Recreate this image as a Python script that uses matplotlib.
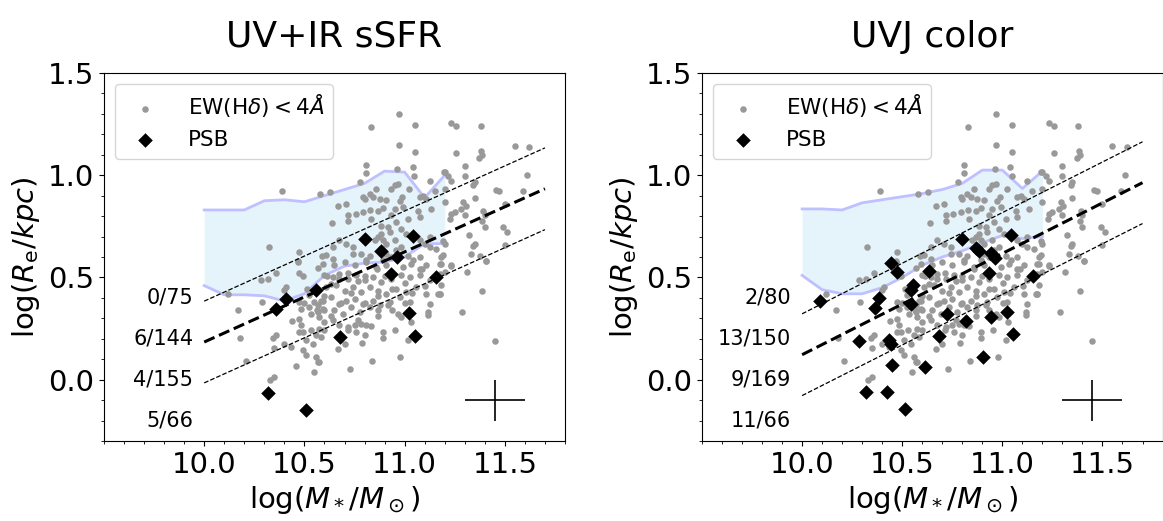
import numpy as np
import matplotlib.pyplot as plt
from matplotlib.ticker import MultipleLocator

# galaxies with EW(Hdelta) < 4A (same sample in both panels)
gray_mass = [
    # upper half
    10.388, 10.578, 10.325, 10.475, 10.467, 10.588,
    10.97, 10.83, 11.05, 10.97, 11.05, 10.808, 10.808, 10.962, 11.04, 11.047, 11.125, 11.195,
    10.778, 10.628, 10.858, 10.825, 10.792, 10.80, 10.842, 10.875, 10.908, 10.933, 10.95,
    10.967, 10.988, 10.975, 11.022, 11.075, 11.092, 11.108, 11.15, 10.667, 10.708, 10.637,
    10.717, 10.717, 10.755, 10.792, 10.828, 10.833, 10.867, 10.892, 10.933, 10.95, 10.992,
    10.958, 11.017, 11.067, 11.075, 11.133, 11.008, 10.983, 10.883, 10.917, 10.925, 10.883,
    10.867, 10.85, 10.892, 10.908, 10.95, 10.983, 10.958, 11.075, 11.1, 11.125, 10.675,
    10.708, 10.742, 10.742, 10.783, 10.825, 10.808, 10.642, 10.608, 10.642, 10.908, 10.933,
    10.892, 11.017, 11.042, 11.075, 11.125, 11.158, 11.183,
    11.233, 11.258, 11.38, 11.258, 11.383, 11.388, 11.372, 11.55, 11.622, 11.30, 11.20,
    11.217, 11.233, 11.30, 11.35, 11.342, 11.612, 11.20, 11.458, 11.472, 11.592, 11.35,
    11.20, 11.292, 11.283, 11.305, 11.25, 11.233, 11.228, 11.30, 11.392, 11.40, 11.388,
    11.50, 11.40, 11.492, 11.512, 11.322, 11.35, 11.342, 11.50, 11.192, 11.20, 11.333,
    11.378, 11.408, 11.192, 11.233,
    # lower half, right
    11.183, 11.233, 11.408, 11.20, 11.312, 11.183, 11.175, 11.388, 11.288, 11.45,
    # lower half, centre
    10.592, 10.65, 10.70, 10.75, 10.808, 10.858, 10.908, 10.992, 11.033, 11.075, 11.108, 11.175,
    10.60, 10.642, 10.675, 10.717, 10.758, 10.80, 10.842, 10.883, 10.933, 10.983, 11.025,
    11.075, 11.125, 11.175,
    10.608, 10.658, 10.70, 10.742, 10.783, 10.825, 10.867, 10.908, 10.958, 11.008, 11.058,
    11.108, 11.167,
    10.592, 10.633, 10.675, 10.708, 10.75, 10.792, 10.842, 10.875, 10.925, 10.975, 11.025,
    10.60, 10.65, 10.692, 10.733, 10.775, 10.825, 10.867, 10.917, 10.967, 10.983,
    10.60, 10.642, 10.675, 10.717, 10.75, 10.783, 10.808,
    10.758, 10.80, 10.892, 10.892, 11.017, 10.60, 10.667, 10.70, 10.788, 10.575, 10.838,
    10.978, 10.728, 11.125, 11.175, 11.117, 11.117, 11.03,
    10.615, 10.632, 10.674, 10.716, 10.733, 10.767, 10.80, 10.86, 10.90, 10.935, 11.003,
    11.036, 11.087, 11.104, 10.868, 10.80, 10.683, 10.60, 10.565, 10.632, 10.767, 10.868,
    10.935, 11.003, 10.716, 10.834, 10.952, 10.531, 10.498, 10.514,
    # lower half, left
    10.467, 10.567, 10.358, 10.317, 10.283, 10.475, 10.492, 10.117, 10.408, 10.40, 10.287,
    10.167, 10.475, 10.483, 10.525, 10.55, 10.567, 10.583, 10.525, 10.567, 10.592, 10.533,
    10.475, 10.575, 10.438, 10.483, 10.492, 10.475, 10.358, 10.342, 10.178, 10.558, 10.575,
    10.583, 10.40, 10.433, 10.35, 10.508, 10.542, 10.492, 10.508, 10.558, 10.567, 10.208,
    10.458, 10.55, 10.35, 10.328,
]
gray_size = [
    0.925, 0.909, 0.651, 0.624, 0.575, 0.603,
    1.297, 1.238, 1.246, 1.15, 1.112, 1.05, 1.011, 1.031, 1.042, 0.998, 0.974, 1.015,
    0.966, 0.92, 0.933, 0.909, 0.893, 0.884, 0.893, 0.884, 0.88, 0.933, 0.95,
    0.958, 0.893, 0.876, 0.933, 0.893, 0.90, 0.884, 0.925, 0.847, 0.857, 0.765,
    0.803, 0.778, 0.811, 0.819, 0.83, 0.787, 0.827, 0.84, 0.803, 0.835, 0.844,
    0.77, 0.787, 0.827, 0.795, 0.836, 0.713, 0.738, 0.754, 0.746, 0.72, 0.713,
    0.697, 0.681, 0.681, 0.664, 0.681, 0.648, 0.632, 0.681, 0.664, 0.697, 0.681,
    0.664, 0.648, 0.615, 0.615, 0.607, 0.583, 0.648, 0.612, 0.591, 0.615, 0.599,
    0.583, 0.607, 0.583, 0.599, 0.648, 0.64, 0.599,
    1.254, 1.243, 1.241, 1.109, 1.117, 1.10, 1.085, 1.145, 1.14, 1.047, 1.015,
    0.998, 0.971, 0.994, 0.966, 0.95, 1.003, 0.933, 0.928, 0.922, 0.925, 0.888,
    0.871, 0.868, 0.835, 0.847, 0.819, 0.811, 0.787, 0.803, 0.827, 0.803, 0.778,
    0.86, 0.746, 0.749, 0.721, 0.708, 0.664, 0.656, 0.661, 0.677, 0.664, 0.615,
    0.607, 0.58, 0.612, 0.563,
    0.567, 0.555, 0.578, 0.526, 0.526, 0.461, 0.417, 0.436, 0.33, 0.189,
    0.567, 0.559, 0.575, 0.559, 0.575, 0.55, 0.559, 0.55, 0.567, 0.542, 0.559, 0.567,
    0.51, 0.502, 0.518, 0.493, 0.51, 0.485, 0.502, 0.477, 0.493, 0.51, 0.502,
    0.51, 0.485, 0.518,
    0.453, 0.461, 0.436, 0.453, 0.428, 0.453, 0.436, 0.42, 0.445, 0.428, 0.453,
    0.42, 0.42,
    0.387, 0.404, 0.371, 0.387, 0.396, 0.371, 0.387, 0.363, 0.379, 0.404, 0.379,
    0.339, 0.339, 0.322, 0.355, 0.33, 0.355, 0.339, 0.363, 0.322, 0.306,
    0.282, 0.29, 0.265, 0.257, 0.265, 0.273, 0.265,
    0.233, 0.216, 0.233, 0.205, 0.192, 0.241, 0.151, 0.176, 0.179, 0.086, 0.091,
    0.111, 0.052, 0.371, 0.42, 0.33, 0.314, 0.28,
    0.507, 0.466, 0.491, 0.524, 0.425, 0.482, 0.507, 0.54, 0.507, 0.441, 0.474,
    0.425, 0.54, 0.458, 0.408, 0.375, 0.375, 0.408, 0.343, 0.31, 0.293, 0.31,
    0.343, 0.375, 0.244, 0.26, 0.244, 0.244, 0.375, 0.441,
    0.578, 0.547, 0.521, 0.493, 0.489, 0.521, 0.505, 0.42, 0.453, 0.44, 0.379,
    0.339, 0.379, 0.347, 0.412, 0.379, 0.363, 0.387, 0.355, 0.33, 0.347, 0.322,
    0.298, 0.306, 0.286, 0.265, 0.233, 0.233, 0.216, 0.205, 0.205, 0.216, 0.249,
    0.208, 0.176, 0.159, 0.156, 0.192, 0.176, 0.143, 0.119, 0.111, 0.086, 0.089,
    0.065, 0.037, 0.013, -0.004,
]

# PSB galaxies
psb_mass_sfr = [10.80, 10.88, 10.96, 11.04, 10.93, 11.155, 10.56, 10.41, 10.36, 10.68,
                11.02, 11.05, 10.32, 10.51]
psb_size_sfr = [0.69, 0.63, 0.60, 0.705, 0.515, 0.50, 0.44, 0.395, 0.345, 0.21,
                0.325, 0.215, -0.065, -0.15]
psb_mass_uvj = [10.80, 11.045, 10.867, 10.883, 10.945, 10.962, 10.445, 10.473, 10.633,
                10.933, 11.153, 10.553, 10.545, 10.545, 10.383, 10.362, 10.09, 10.723,
                10.817, 10.945, 11.023, 10.683, 11.053, 10.282, 10.433, 10.445, 10.903,
                10.45, 10.612, 10.32, 10.423, 10.512]
psb_size_uvj = [0.69, 0.709, 0.643, 0.629, 0.619, 0.595, 0.572, 0.526, 0.529,
                0.521, 0.505, 0.461, 0.437, 0.371, 0.401, 0.352, 0.384, 0.322,
                0.286, 0.306, 0.33, 0.213, 0.221, 0.189, 0.195, 0.176, 0.111,
                0.07, 0.062, -0.06, -0.06, -0.142]

# reference star-forming band
band_mass = [10.0, 10.1, 10.2, 10.3, 10.4, 10.5, 10.6, 10.7, 10.8, 10.9, 11.0, 11.1, 11.2]
band_lo_sfr = [0.46, 0.415, 0.415, 0.41, 0.385, 0.42, 0.51, 0.555, 0.57, 0.575, 0.60, 0.665, 0.665]
band_hi_sfr = [0.83, 0.83, 0.83, 0.875, 0.88, 0.87, 0.90, 0.93, 0.96, 1.02, 1.015, 0.89, 1.0]
band_lo_uvj = [0.51, 0.44, 0.42, 0.42, 0.45, 0.50, 0.56, 0.60, 0.63, 0.67, 0.705, 0.69, 0.70]
band_hi_uvj = [0.835, 0.835, 0.83, 0.865, 0.88, 0.895, 0.91, 0.93, 0.96, 1.025, 1.025, 0.935, 1.02]

# size-mass relation (value at logM=10, slope)
fit_sfr = (0.184, 0.441)
fit_uvj = (0.122, 0.495)

counts_sfr = ['0/75', '6/144', '4/155', '5/66']
counts_uvj = ['2/80', '13/150', '9/169', '11/66']
count_y = [0.4, 0.2, 0.0, -0.2]

titles = ['UV+IR sSFR', 'UVJ color']

fig = plt.figure(figsize=(11.63, 5.21), dpi=100)
ax1 = fig.add_axes([0.0894, 0.1536, 0.3964, 0.7063])
ax2 = fig.add_axes([0.6036, 0.1536, 0.3960, 0.7063])

panels = [
    (ax1, psb_mass_sfr, psb_size_sfr, band_lo_sfr, band_hi_sfr, fit_sfr, counts_sfr),
    (ax2, psb_mass_uvj, psb_size_uvj, band_lo_uvj, band_hi_uvj, fit_uvj, counts_uvj),
]

for i, (ax, pm, ps, lo, hi, fit, counts) in enumerate(panels):
    ax.fill_between(band_mass, lo, hi, color='#e5f3fa', lw=0, zorder=0)
    ax.plot(band_mass, lo, color='#bfc0ff', lw=2, zorder=1)
    ax.plot(band_mass, hi, color='#bfc0ff', lw=2, zorder=1)

    ax.scatter(gray_mass, gray_size, s=22, color='#999999', lw=0, zorder=2,
               label=r'EW(H$\delta$)$<4\AA$')
    ax.scatter(pm, ps, s=55, marker='D', color='black', lw=0, zorder=4, label='PSB')

    xx = np.array([10.0, 11.7])
    yy = fit[0] + fit[1] * (xx - 10.0)
    ax.plot(xx, yy, 'k--', lw=2.2, zorder=3)
    ax.plot(xx, yy + 0.2, 'k--', lw=0.9, zorder=3)
    ax.plot(xx, yy - 0.2, 'k--', lw=0.9, zorder=3)

    for txt, yv in zip(counts, count_y):
        ax.text(9.945, yv, txt, ha='right', va='center', fontsize=15)

    ax.errorbar([11.45], [-0.1], xerr=0.15, yerr=0.1, color='black', lw=1.2, capsize=0)

    ax.set_xlim(9.5, 11.8)
    ax.set_ylim(-0.3, 1.5)
    ax.xaxis.set_major_locator(MultipleLocator(0.5))
    ax.xaxis.set_minor_locator(MultipleLocator(0.1))
    ax.yaxis.set_major_locator(MultipleLocator(0.5))
    ax.yaxis.set_minor_locator(MultipleLocator(0.1))
    ax.set_xticks([10.0, 10.5, 11.0, 11.5])
    ax.tick_params(labelsize=21)
    ax.set_xlabel(r'$\log(M_*/M_\odot)$', fontsize=21)
    ax.set_ylabel(r'$\log(R_{\rm e}/kpc)$', fontsize=21)
    ax.set_title(titles[i], fontsize=26, pad=19)
    ax.legend(loc='upper left', fontsize=15.5, handletextpad=1.0)

plt.savefig('out.png', dpi=100)
